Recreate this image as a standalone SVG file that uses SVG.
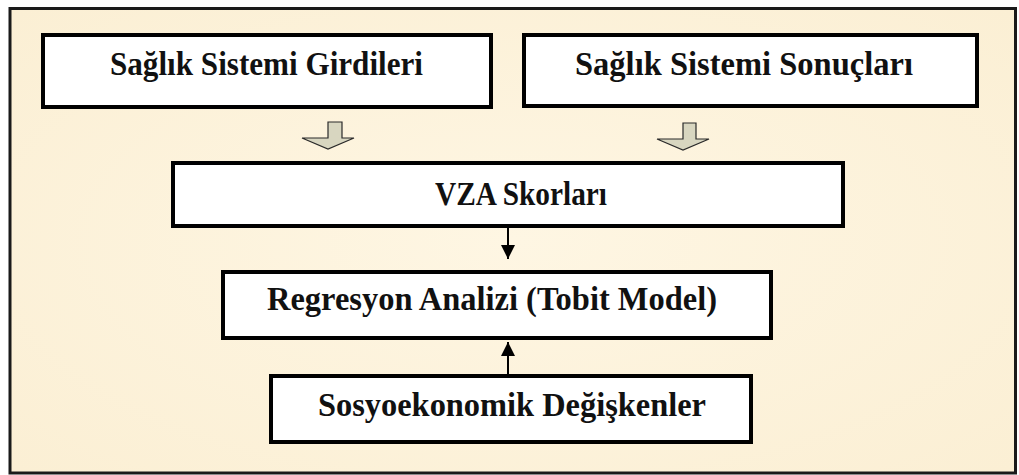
<svg xmlns="http://www.w3.org/2000/svg" width="1019" height="475" viewBox="0 0 1019 475">
<defs>
<style>
.box{fill:#ffffff;stroke:#000000;stroke-width:4}
.lbl{font-family:"Liberation Serif","DejaVu Serif",serif;font-weight:bold;font-size:33px;fill:#111111;text-anchor:middle}
.conn{stroke:#000000;stroke-width:2;fill:none}
.block{fill:#d8d6c0;stroke:#2a2a2a;stroke-width:1.2}
</style>
<marker id="ah" viewBox="0 0 10 10" refX="10" refY="5" markerWidth="14" markerHeight="14" markerUnits="userSpaceOnUse" orient="auto">
<path d="M0,0 L10,5 L0,10 Z" fill="#000000"/>
</marker>
<radialGradient id="bg" cx="50%" cy="50%" r="70%">
<stop offset="0" stop-color="#fef6e3"/>
<stop offset="1" stop-color="#fbefd4"/>
</radialGradient>
</defs>
<rect x="0" y="0" width="1019" height="475" fill="#ffffff"/>
<rect x="10" y="8.5" width="1005.5" height="464.5" fill="url(#bg)" stroke="#1a1a1a" stroke-width="3"/>
<g id="connectors">
<path class="block" d="M328,122 L342,122 L342,138 L354,138 L328,149 L302,138 L328,138 Z"/>
<path class="block" d="M683,123 L696,123 L696,139 L709,139 L683,150 L657,139 L683,139 Z"/>
<line class="conn" x1="508" y1="228" x2="508" y2="259" marker-end="url(#ah)"/>
<line class="conn" x1="508" y1="374" x2="508" y2="342" marker-end="url(#ah)"/>
</g>
<g id="node-girdiler">
<rect class="box" x="43" y="35" width="448" height="72"/>
<text class="lbl" x="266.5" y="75" textLength="313" lengthAdjust="spacingAndGlyphs">Sağlık Sistemi Girdileri</text>
</g>
<g id="node-sonuclar">
<rect class="box" x="524" y="35" width="453" height="71"/>
<text class="lbl" x="744" y="75" textLength="338" lengthAdjust="spacingAndGlyphs">Sağlık Sistemi Sonuçları</text>
</g>
<g id="node-vza">
<rect class="box" x="173" y="163" width="670" height="63"/>
<text class="lbl" x="521" y="205" textLength="172" lengthAdjust="spacingAndGlyphs">VZA Skorları</text>
</g>
<g id="node-regresyon">
<rect class="box" x="223" y="272" width="548" height="66"/>
<text class="lbl" x="492" y="310" textLength="450" lengthAdjust="spacingAndGlyphs">Regresyon Analizi (Tobit Model)</text>
</g>
<g id="node-sosyo">
<rect class="box" x="271" y="376" width="480" height="66"/>
<text class="lbl" x="512" y="416" textLength="388" lengthAdjust="spacingAndGlyphs">Sosyoekonomik Değişkenler</text>
</g>
</svg>
